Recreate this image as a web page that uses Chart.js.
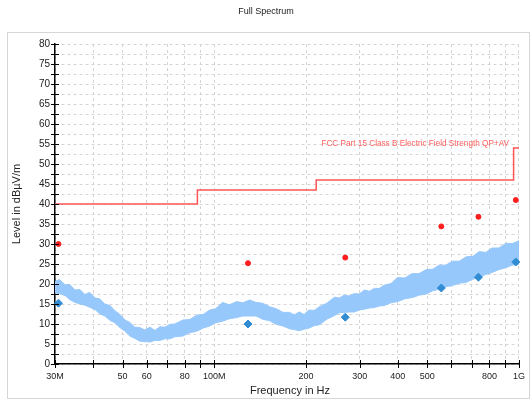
<!DOCTYPE html>
<html>
<head>
<meta charset="utf-8">
<script src="https://cdn.jsdelivr.net/npm/chart.js@4/dist/chart.umd.min.js"></script>
<style>
html,body{margin:0;padding:0;background:#fff;}
#wrap{width:532px;height:402px;}
</style>
</head>
<body>
<div id="wrap"><canvas id="spec" width="532" height="402"></canvas></div>
<script>
// frequencies in MHz, levels in dBuV/m
var traceFreq=[30,31,32.4,33.5,34.9,36.2,37.6,39,40.6,42,43.7,45.5,47.2,49,50.9,52.8,54.8,57,59.1,61.5,
  63.8,66.3,68.8,71.5,74.2,78.8,83,87.6,92,96.6,101,106.5,112,118.4,124,130.6,137,144,152,160,
  168,176.6,183,190,197,205,213,221,234,248,257,267,277,288,299,311,323,335,348,361,
  380,399,422,446,470,496,521,547,575,604,637,671,705,740,778,816,860,907,950,1000];
var traceTop=[20.6,21.1,19.8,19.9,18.5,18.6,17.4,17.9,16.5,16.3,15.0,14.6,13.3,12.4,11.0,10.4,9.2,9.1,8.5,9.2,
  8.4,9.3,9.2,9.9,10.0,11.0,11.1,12.2,12.4,13.5,13.8,15.4,14.8,15.6,15.3,16.0,15.4,15.2,14.3,13.8,
  12.9,12.9,12.3,13.0,12.4,13.5,13.4,14.3,15.2,16.7,16.5,17.2,17.0,17.6,17.5,18.5,18.2,18.9,18.9,19.7,
  20.1,21.6,21.5,22.6,22.6,23.6,23.7,24.7,24.7,25.7,25.7,26.8,26.9,28.1,27.9,29.0,29.0,30.2,30.1,30.8];
var traceBottom=[17.8,17.6,17.1,16.1,15.4,15.0,14.7,14.2,13.6,12.6,12.0,10.9,10.3,9.1,8.2,7.0,6.4,5.7,5.6,5.5,
  5.9,5.9,6.3,6.3,6.8,7.0,7.8,8.2,9.0,9.5,10.3,10.7,11.3,11.6,12.0,12.0,12.0,11.2,10.8,9.9,
  9.5,8.8,8.6,8.3,8.7,9.0,9.6,9.8,11.2,12.1,12.8,12.9,13.0,13.0,13.5,13.7,14.0,14.1,14.5,14.6,
  15.3,15.6,16.3,16.6,17.2,17.5,18.3,18.7,19.3,19.6,20.2,20.4,21.2,21.6,22.4,22.9,23.6,24.1,24.7,25.0];

var limitFreq=[30,88,216,960,1000];
var limitLevel=[40,43.5,46,54,54];

var peakFreq=[30.8,129,269,556,736,976];
var qpLevel=[30,25.2,26.6,34.4,36.8,41];
var avLevel=[15.2,10,11.7,19,21.7,25.5];

var xTickValues=[30,40,50,60,70,80,90,100,200,300,400,500,600,700,800,900,1000];
var xTickLabels=["30M","","50","60","","80","","100M","200","300","400","500","","","800","","1G"];

var FONT="'Liberation Sans', Arial, sans-serif";

function pts(xs,ys){
  var out=[];
  for(var i=0;i<xs.length;i++){out.push({x:xs[i],y:ys[i]});}
  return out;
}

var deco={
  id:'deco',
  beforeDraw:function(c){
    var ctx=c.ctx;
    ctx.save();
    ctx.fillStyle='#fff';
    ctx.fillRect(0,0,c.width,c.height);
    ctx.strokeStyle='#d6d6d6';
    ctx.lineWidth=1;
    ctx.strokeRect(7.5,32.5,522,366);
    ctx.restore();
  },
  afterDraw:function(c){
    var ctx=c.ctx, xs=c.scales.x, ys=c.scales.y, a=c.chartArea;
    ctx.save();
    // tick marks crossing the axes
    ctx.strokeStyle='#000';
    ctx.lineWidth=1;
    ctx.beginPath();
    for(var v=0;v<=80;v+=2.5){
      var py=Math.round(ys.getPixelForValue(v))+0.5;
      ctx.moveTo(a.left-4,py);ctx.lineTo(a.left+4,py);
    }
    xTickValues.forEach(function(f){
      var px=Math.round(xs.getPixelForValue(f))+0.5;
      ctx.moveTo(px,a.bottom-4);ctx.lineTo(px,a.bottom+4);
    });
    ctx.stroke();
    // texts
    ctx.fillStyle='#222';
    ctx.textAlign='center';
    ctx.textBaseline='middle';
    ctx.font='9px '+FONT;
    ctx.fillText('Full Spectrum',266,12);
    ctx.font='11px '+FONT;
    ctx.fillText('Frequency in Hz',290,391);
    ctx.save();
    ctx.translate(17,(a.top+a.bottom)/2);
    ctx.rotate(-Math.PI/2);
    ctx.fillText('Level in dB\u00b5V/m',0,0);
    ctx.restore();
    ctx.fillStyle='rgb(255,95,95)';
    ctx.font='8.2px '+FONT;
    ctx.textAlign='right';
    ctx.fillText('FCC Part 15 Class B Electric Field Strength QP+AV',509,144);
    ctx.restore();
  }
};

var myChart=new Chart(document.getElementById('spec'),{
  type:'line',
  data:{
    datasets:[
      {label:'QP',type:'scatter',data:pts(peakFreq,qpLevel),order:0,clip:false,
        pointStyle:'circle',pointRadius:2.5,backgroundColor:'rgb(255,30,30)',borderColor:'rgb(255,30,30)',borderWidth:1},
      {label:'AV',type:'scatter',data:pts(peakFreq,avLevel),order:1,clip:false,
        pointStyle:'rectRot',pointRadius:4,backgroundColor:'rgb(50,140,210)',borderColor:'rgb(50,140,210)',borderWidth:1},
      {label:'Limit',data:pts(limitFreq,limitLevel),order:2,stepped:true,
        borderColor:'rgb(255,85,85)',borderWidth:1.5,pointRadius:0,fill:false},
      {label:'Top',data:pts(traceFreq,traceTop),order:3,
        borderColor:'rgb(150,200,252)',borderWidth:1,pointRadius:0,tension:0,
        fill:'+1',backgroundColor:'rgb(150,200,252)'},
      {label:'Bottom',data:pts(traceFreq,traceBottom),order:4,
        borderColor:'rgb(150,200,252)',borderWidth:1,pointRadius:0,tension:0,fill:false}
    ]
  },
  options:{
    responsive:false,
    animation:false,
    devicePixelRatio:1,
    layout:{padding:{top:44,right:12,left:0,bottom:0}},
    plugins:{legend:{display:false},tooltip:{enabled:false},title:{display:false}},
    scales:{
      x:{
        type:'logarithmic',min:30,max:1000,
        afterFit:function(s){s.height=38;},
        afterBuildTicks:function(s){s.ticks=xTickValues.map(function(v){return {value:v};});},
        ticks:{autoSkip:false,maxRotation:0,padding:7,color:'#222',font:{family:FONT,size:9},
          callback:function(value){var i=xTickValues.indexOf(value);return i<0?'':xTickLabels[i];}},
        grid:{color:'#d4d4d4',lineWidth:1,drawTicks:false},
        border:{display:true,color:'#000',width:1.5,dash:[3,3]}
      },
      y:{
        min:0,max:80,
        afterFit:function(s){s.width=55;},
        ticks:{stepSize:2.5,autoSkip:false,padding:5,color:'#222',font:{family:FONT,size:10},
          callback:function(value){return value%5===0?String(value):'';}},
        grid:{color:'#d4d4d4',lineWidth:1,drawTicks:false},
        border:{display:true,color:'#000',width:1.5,dash:[3,3]}
      }
    }
  },
  plugins:[deco]
});
</script>
</body>
</html>
